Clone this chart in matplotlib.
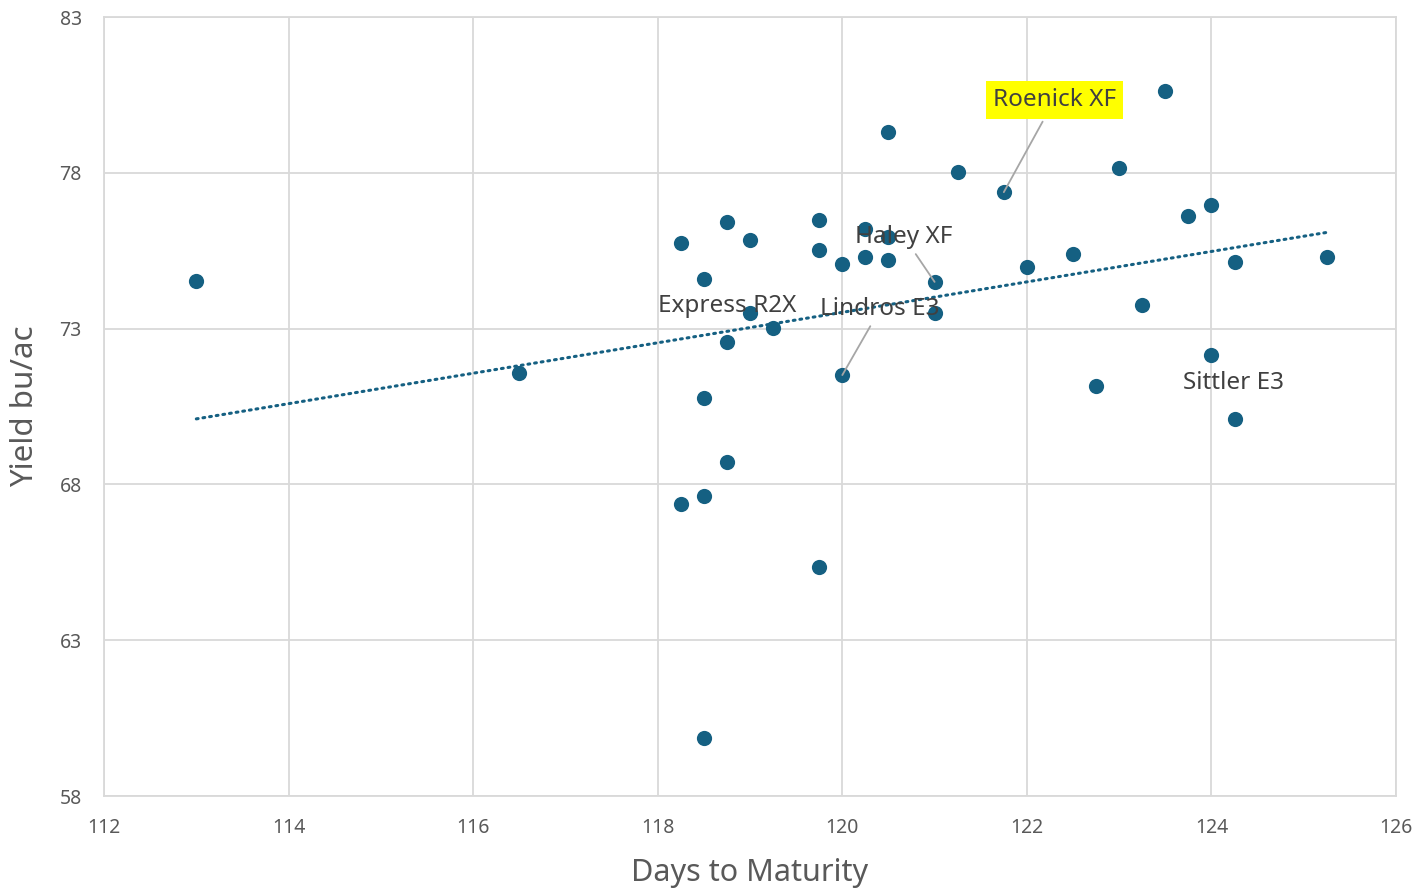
import numpy as np
import matplotlib
matplotlib.use('Agg')
import matplotlib.pyplot as plt

plt.rcParams['font.family'] = ['Noto Sans', 'DejaVu Sans']

# 성숙일수 / 수량
days = [113, 116.5, 118.25, 118.5, 118.5, 118.5, 118.25, 118.5, 118.75, 118.75,
        118.75, 119, 119, 119.25, 119.75, 119.75, 119.75, 120, 120, 120.25,
        120.25, 120.5, 120.5, 120.5, 121, 121, 121.25, 121.75, 122, 122.5,
        122.75, 123, 123.25, 123.5, 123.75, 124, 124, 124.25, 124.25, 125.25]
yields = [74.53, 71.58, 75.75, 74.59, 70.77, 67.63, 67.37, 59.86, 76.42, 72.57,
          68.72, 75.84, 73.5, 73.02, 76.49, 75.52, 65.35, 75.07, 71.51, 76.2,
          75.3, 79.31, 75.94, 75.2, 74.5, 73.5, 78.03, 77.38, 74.98, 75.39,
          71.16, 78.15, 73.76, 80.63, 76.61, 76.97, 72.15, 75.14, 70.1, 75.3]

# 라벨 (이름, 점, 텍스트 위치)
names = ['Roenick XF', 'Haley XF', 'Express R2X', 'Lindros E3', 'Sittler E3']
name_pts = [(121.75, 77.38), (121, 74.5), (119, 73.5), (120, 71.51), (124.25, 70.1)]
name_txt = [(122.30, 80.34), (120.67, 75.94), (118.75, 73.73), (120.41, 73.63), (124.24, 71.25)]
leader = [True, True, False, True, False]

color = '#156082'

fig = plt.figure(figsize=(14.27, 8.92), dpi=100)
ax = fig.add_axes([0.0729, 0.1076, 0.9054, 0.8733])

ax.scatter(days, yields, s=120, color=color, zorder=3, linewidths=0)

# 추세선
coef = np.polyfit(days, yields, 1)
tx = np.array([min(days), max(days)])
ax.plot(tx, np.polyval(coef, tx), color=color, linestyle=(0, (0.6, 1.6)),
        linewidth=2.2, dash_capstyle='round', zorder=2)

for name, pt, txt, ld in zip(names, name_pts, name_txt, leader):
    bbox = None
    if name == 'Roenick XF':
        bbox = dict(boxstyle='square,pad=0.3', facecolor='yellow', edgecolor='none')
    if ld:
        ax.annotate(name, xy=pt, xytext=txt, ha='center', va='center', fontsize=17.5,
                    color='#404040', bbox=bbox, zorder=4,
                    arrowprops=dict(arrowstyle='-', color='#a6a6a6', lw=1.3,
                                    shrinkA=2, shrinkB=0))
    else:
        ax.text(txt[0], txt[1], name, ha='center', va='center', fontsize=17.5,
                color='#404040', zorder=4)

ax.set_xlim(112, 126)
ax.set_ylim(58, 83)
ax.set_xticks(range(112, 127, 2))
ax.set_yticks([58, 63, 68, 73, 78, 83])
ax.grid(True, color='#d9d9d9', linewidth=1.3)
ax.set_axisbelow(True)
for s in ax.spines.values():
    s.set_color('#d9d9d9')
    s.set_linewidth(1.3)
ax.tick_params(length=0, labelsize=14, labelcolor='#595959', pad=16)
ax.set_xlabel('Days to Maturity', fontsize=22, color='#595959', labelpad=14)
ax.set_ylabel('Yield bu/ac', fontsize=22.5, color='#595959', labelpad=14)

plt.savefig('out.png', dpi=100)
